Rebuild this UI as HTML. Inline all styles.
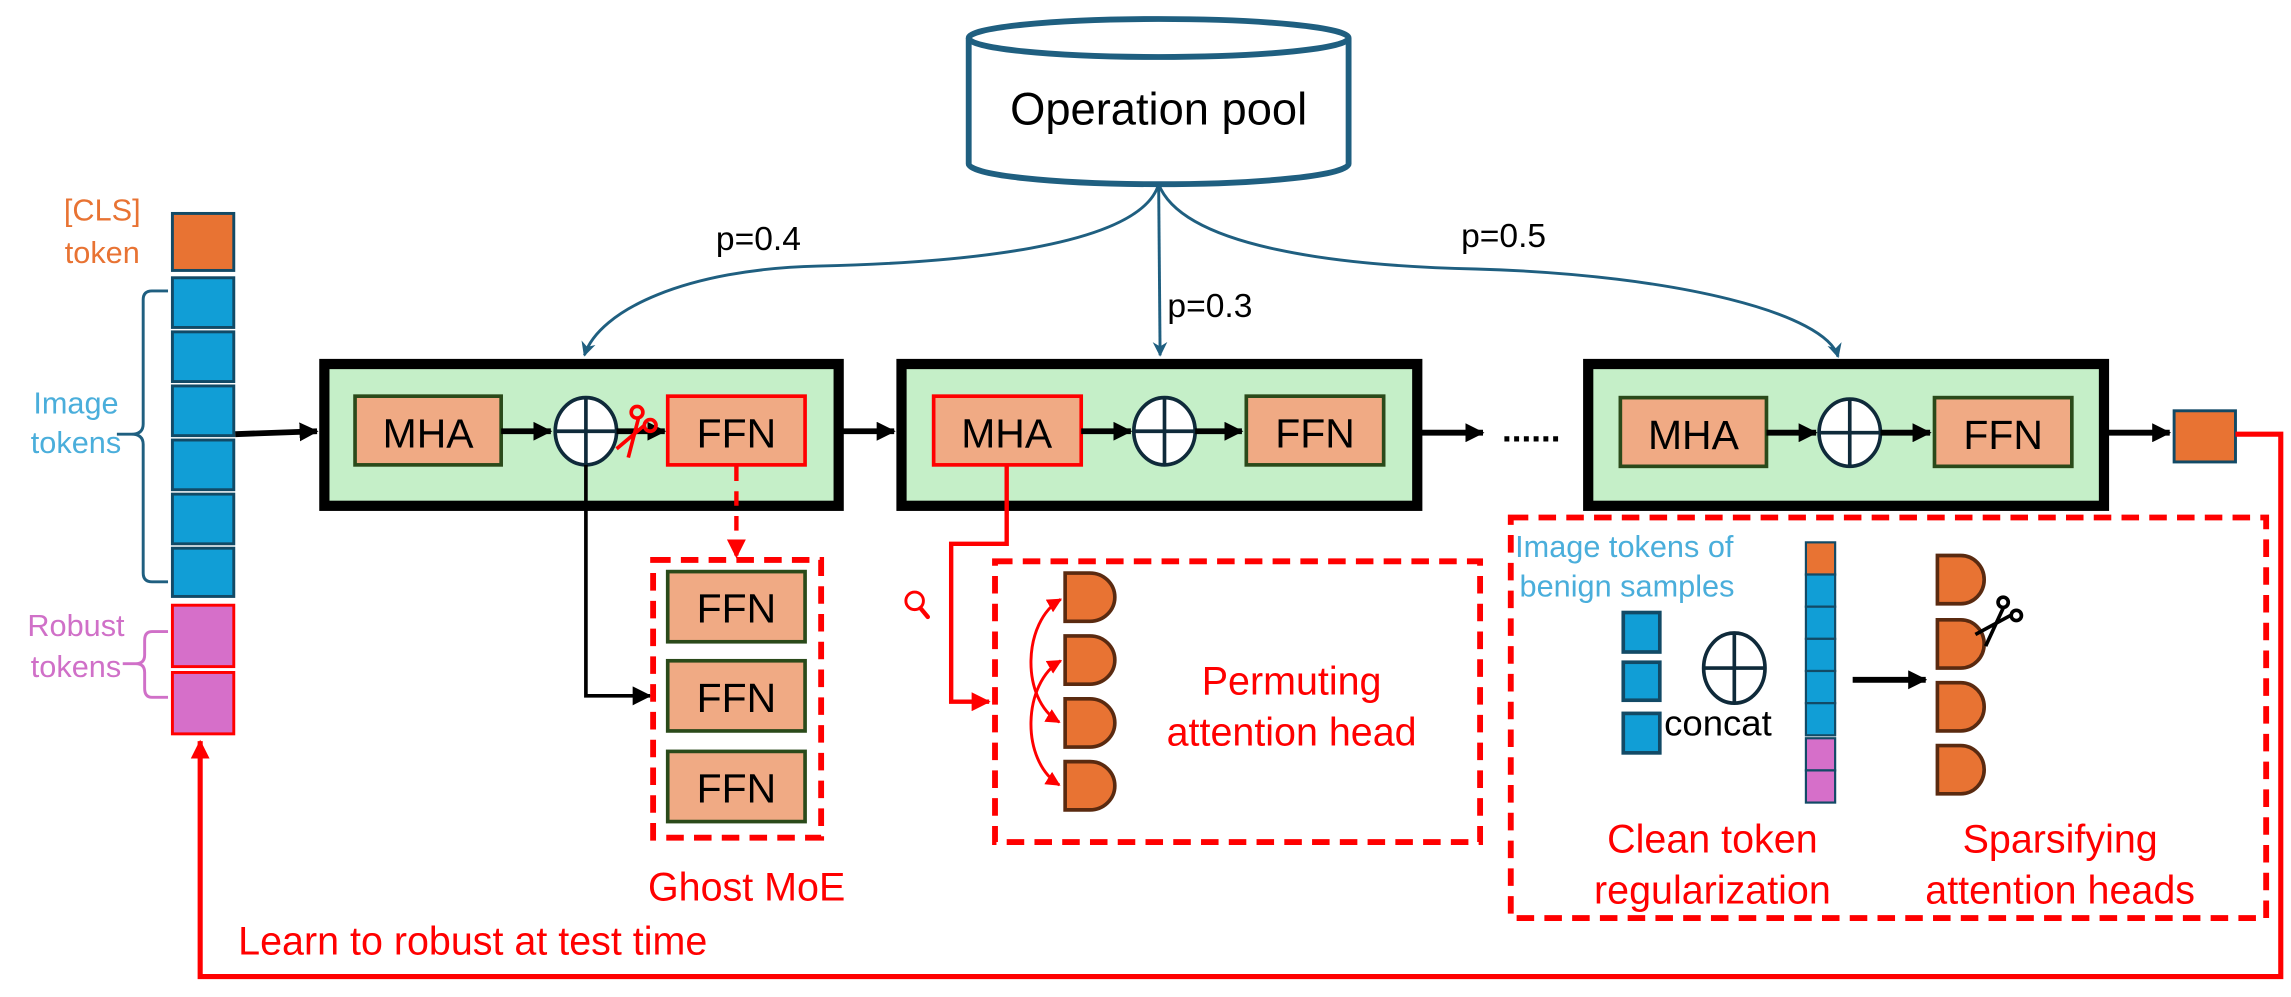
<!DOCTYPE html>
<html><head><meta charset="utf-8"><style>
html,body{margin:0;padding:0;background:#fff;}
svg{display:block;}
text{font-family:"Liberation Sans","DejaVu Sans",sans-serif;}
</style></head><body>
<svg width="2291" height="997" viewBox="0 0 1568 682" preserveAspectRatio="none" xmlns="http://www.w3.org/2000/svg">
<defs>
<marker id="abig" markerWidth="13" markerHeight="13" refX="12" refY="6.5" orient="auto" markerUnits="userSpaceOnUse"><path d="M0,0 L13,6.5 L0,13 z" fill="#000"/></marker>
<marker id="ar" markerWidth="13" markerHeight="13" refX="12" refY="6.5" orient="auto" markerUnits="userSpaceOnUse"><path d="M0,0 L13,6.5 L0,13 z" fill="#f00"/></marker>
<marker id="ars" markerWidth="10" markerHeight="10" refX="9" refY="5" orient="auto-start-reverse" markerUnits="userSpaceOnUse"><path d="M0,0 L10,5 L0,10 z" fill="#f00"/></marker>
<marker id="at" markerWidth="10" markerHeight="10" refX="9" refY="5" orient="auto" markerUnits="userSpaceOnUse"><path d="M0,0 L10,5 L0,10 L3,5 z" fill="#1f5f80"/></marker>
</defs>

<!-- Operation pool cylinder -->
<path d="M663,26 L663,112 A130,14 0 0 0 923,112 L923,26" fill="#fff" stroke="#1f5f80" stroke-width="4"/>
<ellipse cx="793" cy="26" rx="130" ry="13" fill="#fff" stroke="#1f5f80" stroke-width="4"/>
<text x="793" y="85" font-size="31" text-anchor="middle">Operation pool</text>

<!-- curves from pool -->
<path d="M793,126 C780,170 650,180 560,182 C470,184 410,212 400,243" fill="none" stroke="#1f5f80" stroke-width="2" marker-end="url(#at)"/>
<path d="M793,126 L794,243" fill="none" stroke="#1f5f80" stroke-width="2" marker-end="url(#at)"/>
<path d="M793,126 C810,170 920,182 1010,184 C1150,188 1250,215 1258,244" fill="none" stroke="#1f5f80" stroke-width="2" marker-end="url(#at)"/>
<text x="490" y="171" font-size="23">p=0.4</text>
<text x="799" y="217" font-size="23">p=0.3</text>
<text x="1000" y="169" font-size="23">p=0.5</text>

<!-- left tokens -->
<rect x="118" y="146" width="42" height="39" fill="#e87333" stroke="#124a66" stroke-width="2"/>
<g fill="#119ed6" stroke="#124a66" stroke-width="2">
<rect x="118" y="190" width="42" height="34"/>
<rect x="118" y="227" width="42" height="34"/>
<rect x="118" y="264" width="42" height="34"/>
<rect x="118" y="301" width="42" height="34"/>
<rect x="118" y="338" width="42" height="34"/>
<rect x="118" y="375" width="42" height="33"/>
</g>
<g fill="#d66fc9" stroke="#f00" stroke-width="2">
<rect x="118" y="414" width="42" height="42"/>
<rect x="118" y="460" width="42" height="42"/>
</g>
<text x="70" y="151" font-size="21" fill="#e87333" text-anchor="middle">[CLS]</text>
<text x="70" y="180" font-size="21" fill="#e87333" text-anchor="middle">token</text>
<text x="52" y="283" font-size="21" fill="#4aaedb" text-anchor="middle">Image</text>
<text x="52" y="310" font-size="21" fill="#4aaedb" text-anchor="middle">tokens</text>
<text x="52" y="435" font-size="21" fill="#d070c8" text-anchor="middle">Robust</text>
<text x="52" y="463" font-size="21" fill="#d070c8" text-anchor="middle">tokens</text>
<path d="M115,199 L104,199 Q98,199 98,205 L98,290 Q98,297 90,297 L80,297 M90,297 Q98,297 98,304 L98,392 Q98,398 104,398 L115,398" fill="none" stroke="#1f5f80" stroke-width="2"/>
<path d="M115,432 L104,432 Q99,432 99,438 L99,448 Q99,454 93,454 L84,454 M93,454 Q99,454 99,460 L99,471 Q99,477 104,477 L115,477" fill="none" stroke="#d070c8" stroke-width="2"/>

<!-- arrow in -->
<line x1="161" y1="297" x2="217" y2="295" stroke="#000" stroke-width="4" marker-end="url(#abig)"/>

<!-- Block 1 -->
<rect x="222" y="249" width="352" height="97" fill="#c5efc8" stroke="#000" stroke-width="7"/>
<rect x="243" y="271" width="100" height="47" fill="#f0aa84" stroke="#2a4a1a" stroke-width="2.5"/>
<text x="293" y="306" font-size="28" text-anchor="middle">MHA</text>
<line x1="343" y1="295" x2="377" y2="295" stroke="#000" stroke-width="4" marker-end="url(#abig)"/>
<ellipse cx="401" cy="295" rx="21" ry="23" fill="#fff" stroke="#0f2a3a" stroke-width="2.5"/>
<line x1="380" y1="295" x2="422" y2="295" stroke="#0f2a3a" stroke-width="2.5"/>
<line x1="401" y1="272" x2="401" y2="318" stroke="#0f2a3a" stroke-width="2.5"/>
<line x1="422" y1="295" x2="455" y2="295" stroke="#000" stroke-width="4" marker-end="url(#abig)"/>
<!-- red scissors -->
<g stroke="#f00" stroke-width="2.5" fill="none">
<circle cx="436" cy="282" r="4"/>
<circle cx="445" cy="291" r="4"/>
<line x1="437" y1="286" x2="430" y2="313"/>
<line x1="441" y1="291" x2="422" y2="307"/>
</g>
<rect x="457" y="271" width="94" height="47" fill="#f0aa84" stroke="#f00" stroke-width="2.5"/>
<text x="504" y="306" font-size="28" text-anchor="middle">FFN</text>

<!-- block1 -> ghost moe -->
<path d="M401,318 L401,476 L445,476" fill="none" stroke="#000" stroke-width="2.5" marker-end="url(#abig)"/>
<line x1="504" y1="319" x2="504" y2="381" stroke="#f00" stroke-width="3" stroke-dasharray="10,7" marker-end="url(#ar)"/>

<!-- Ghost MoE -->
<rect x="447" y="383" width="115" height="190" fill="none" stroke="#f00" stroke-width="4" stroke-dasharray="12,7"/>
<g fill="#f0aa84" stroke="#2a4a1a" stroke-width="2.5">
<rect x="457" y="391" width="94" height="48"/>
<rect x="457" y="452" width="94" height="48"/>
<rect x="457" y="514" width="94" height="48"/>
</g>
<text x="504" y="426" font-size="28" text-anchor="middle">FFN</text>
<text x="504" y="487" font-size="28" text-anchor="middle">FFN</text>
<text x="504" y="549" font-size="28" text-anchor="middle">FFN</text>
<text x="511" y="616" font-size="27" fill="#f00" text-anchor="middle">Ghost MoE</text>

<!-- arrow 1->2 -->
<line x1="577" y1="295" x2="612" y2="295" stroke="#000" stroke-width="4" marker-end="url(#abig)"/>

<!-- Block 2 -->
<rect x="617" y="249" width="353" height="97" fill="#c5efc8" stroke="#000" stroke-width="7"/>
<rect x="639" y="271" width="101" height="47" fill="#f0aa84" stroke="#f00" stroke-width="2.5"/>
<text x="689" y="306" font-size="28" text-anchor="middle">MHA</text>
<line x1="740" y1="295" x2="774" y2="295" stroke="#000" stroke-width="4" marker-end="url(#abig)"/>
<ellipse cx="797" cy="295" rx="21" ry="23" fill="#fff" stroke="#0f2a3a" stroke-width="2.5"/>
<line x1="776" y1="295" x2="818" y2="295" stroke="#0f2a3a" stroke-width="2.5"/>
<line x1="797" y1="272" x2="797" y2="318" stroke="#0f2a3a" stroke-width="2.5"/>
<line x1="818" y1="295" x2="850" y2="295" stroke="#000" stroke-width="4" marker-end="url(#abig)"/>
<rect x="853" y="271" width="94" height="47" fill="#f0aa84" stroke="#2a4a1a" stroke-width="2.5"/>
<text x="900" y="306" font-size="28" text-anchor="middle">FFN</text>

<!-- arrow 2 -> dots -->
<line x1="973" y1="296" x2="1015" y2="296" stroke="#000" stroke-width="4" marker-end="url(#abig)"/>
<text x="1028" y="302" font-size="24" font-weight="bold">......</text>

<!-- permute connector -->
<path d="M689,318 L689,372 L651,372 L651,480 L677,480" fill="none" stroke="#f00" stroke-width="3" marker-end="url(#ar)"/>
<circle cx="626" cy="411" r="6" fill="none" stroke="#f00" stroke-width="2"/>
<line x1="630" y1="416" x2="635" y2="422" stroke="#f00" stroke-width="3" stroke-linecap="round"/>

<!-- Permute box -->
<rect x="681" y="384" width="332" height="192" fill="none" stroke="#f00" stroke-width="4" stroke-dasharray="12,7"/>
<g fill="#e87333" stroke="#5a2a10" stroke-width="2.5">
<path d="M729,392 h17 a17,16.5 0 0 1 0,33 h-17 z"/>
<path d="M729,435 h17 a17,16.5 0 0 1 0,33 h-17 z"/>
<path d="M729,478 h17 a17,16.5 0 0 1 0,33 h-17 z"/>
<path d="M729,521 h17 a17,16.5 0 0 1 0,33 h-17 z"/>
</g>
<path d="M726,410 C700,425 698,478 725,494" fill="none" stroke="#f00" stroke-width="2" marker-start="url(#ars)" marker-end="url(#ars)"/>
<path d="M726,452 C700,467 698,520 725,537" fill="none" stroke="#f00" stroke-width="2" marker-start="url(#ars)" marker-end="url(#ars)"/>
<text x="884" y="475" font-size="27" fill="#f00" text-anchor="middle">Permuting</text>
<text x="884" y="510" font-size="27" fill="#f00" text-anchor="middle">attention head</text>

<!-- Block 3 -->
<rect x="1087" y="249" width="353" height="97" fill="#c5efc8" stroke="#000" stroke-width="7"/>
<rect x="1109" y="272" width="100" height="47" fill="#f0aa84" stroke="#2a4a1a" stroke-width="2.5"/>
<text x="1159" y="307" font-size="28" text-anchor="middle">MHA</text>
<line x1="1209" y1="296" x2="1243" y2="296" stroke="#000" stroke-width="4" marker-end="url(#abig)"/>
<ellipse cx="1266" cy="296" rx="21" ry="23" fill="#fff" stroke="#0f2a3a" stroke-width="2.5"/>
<line x1="1245" y1="296" x2="1287" y2="296" stroke="#0f2a3a" stroke-width="2.5"/>
<line x1="1266" y1="273" x2="1266" y2="319" stroke="#0f2a3a" stroke-width="2.5"/>
<line x1="1287" y1="296" x2="1321" y2="296" stroke="#000" stroke-width="4" marker-end="url(#abig)"/>
<rect x="1324" y="272" width="94" height="47" fill="#f0aa84" stroke="#2a4a1a" stroke-width="2.5"/>
<text x="1371" y="307" font-size="28" text-anchor="middle">FFN</text>

<!-- output -->
<line x1="1443" y1="296" x2="1485" y2="296" stroke="#000" stroke-width="4" marker-end="url(#abig)"/>
<rect x="1488" y="281" width="42" height="35" fill="#e87333" stroke="#124a66" stroke-width="2"/>

<!-- feedback red line -->
<path d="M1530,297 L1561,297 L1561,668 L137,668 L137,507" fill="none" stroke="#f00" stroke-width="3.5" marker-end="url(#ar)"/>
<text x="163" y="653" font-size="27" fill="#f00">Learn to robust at test time</text>

<!-- big dashed box -->
<rect x="1034" y="354" width="517" height="274" fill="none" stroke="#f00" stroke-width="4" stroke-dasharray="12,7"/>
<text x="1037" y="381" font-size="21" fill="#4aaedb">Image tokens of</text>
<text x="1040" y="408" font-size="21" fill="#4aaedb">benign samples</text>
<g fill="#119ed6" stroke="#124a66" stroke-width="2.5">
<rect x="1111" y="419" width="25" height="27"/>
<rect x="1111" y="453" width="25" height="26"/>
<rect x="1111" y="488" width="25" height="27"/>
</g>
<ellipse cx="1187" cy="457" rx="21" ry="24" fill="#fff" stroke="#0f2a3a" stroke-width="2.5"/>
<line x1="1166" y1="457" x2="1208" y2="457" stroke="#0f2a3a" stroke-width="2.5"/>
<line x1="1187" y1="433" x2="1187" y2="481" stroke="#0f2a3a" stroke-width="2.5"/>
<text x="1139" y="503" font-size="25">concat</text>
<g stroke="#124a66" stroke-width="1.5">
<rect x="1236" y="371" width="20" height="22" fill="#e87333"/>
<rect x="1236" y="393" width="20" height="22" fill="#119ed6"/>
<rect x="1236" y="415" width="20" height="22" fill="#119ed6"/>
<rect x="1236" y="437" width="20" height="22" fill="#119ed6"/>
<rect x="1236" y="459" width="20" height="22" fill="#119ed6"/>
<rect x="1236" y="481" width="20" height="22" fill="#119ed6"/>
<rect x="1236" y="505" width="20" height="22" fill="#d66fc9"/>
<rect x="1236" y="527" width="20" height="22" fill="#d66fc9"/>
</g>
<line x1="1268" y1="465" x2="1318" y2="465" stroke="#000" stroke-width="4" marker-end="url(#abig)"/>
<g fill="#e87333" stroke="#5a2a10" stroke-width="2.5">
<path d="M1326,380 h16 a16,16.5 0 0 1 0,33 h-16 z"/>
<path d="M1326,424 h16 a16,16.5 0 0 1 0,33 h-16 z"/>
<path d="M1326,467 h16 a16,16.5 0 0 1 0,33 h-16 z"/>
<path d="M1326,510 h16 a16,16.5 0 0 1 0,33 h-16 z"/>
</g>
<!-- black scissors -->
<g stroke="#000" stroke-width="2.5" fill="none">
<circle cx="1371" cy="412" r="3.5"/>
<circle cx="1380" cy="421" r="3.5"/>
<line x1="1371" y1="416" x2="1359" y2="442"/>
<line x1="1376" y1="421" x2="1352" y2="434"/>
</g>
<text x="1172" y="583" font-size="27" fill="#f00" text-anchor="middle">Clean token</text>
<text x="1172" y="618" font-size="27" fill="#f00" text-anchor="middle">regularization</text>
<text x="1410" y="583" font-size="27" fill="#f00" text-anchor="middle">Sparsifying</text>
<text x="1410" y="618" font-size="27" fill="#f00" text-anchor="middle">attention heads</text>
</svg>
</body></html>
